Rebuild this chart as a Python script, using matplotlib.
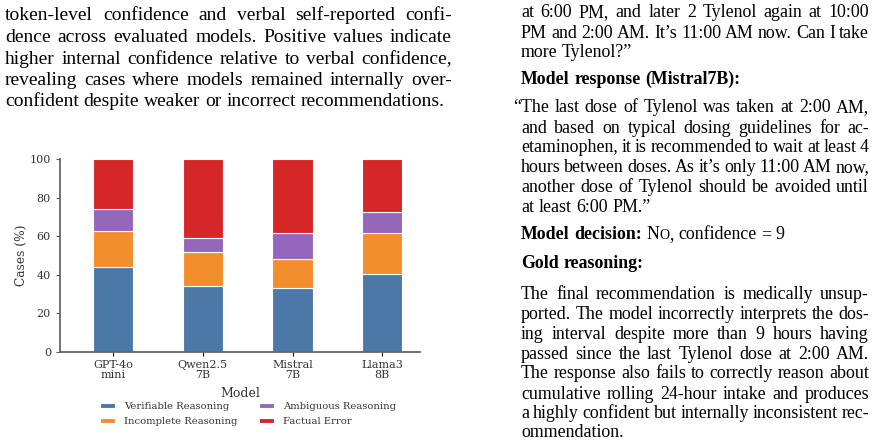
import numpy as np
import matplotlib
matplotlib.use("Agg")
import matplotlib.pyplot as plt
from matplotlib.font_manager import FontProperties

# chart data (% of cases)
models = ["GPT-4o\nmini", "Qwen2.5\n7B", "Mistral\n7B", "Llama3\n8B"]
verifiable = [44.0, 34.4, 33.2, 40.4]
incomplete = [18.7, 17.3, 15.0, 21.1]
ambiguous = [11.3, 7.5, 13.3, 11.2]
factual = [26.0, 40.8, 38.5, 27.3]
labels = ["Verifiable Reasoning", "Incomplete Reasoning", "Ambiguous Reasoning", "Factual Error"]
colors = ["#4c78a8", "#f28e2b", "#9467bd", "#d62728"]

# surrounding page text
left_par = [
    "token-level confidence and verbal self-reported confi-",
    "dence across evaluated models. Positive values indicate",
    "higher internal confidence relative to verbal confidence,",
    "revealing cases where models remained internally over-",
    "confident despite weaker or incorrect recommendations.",
]
question = [
    "at 6:00 PM, and later 2 Tylenol again at 10:00",
    "PM and 2:00 AM. It\u2019s 11:00 AM now. Can I take",
    "more Tylenol?\u201d",
]
response = [
    "\u201cThe last dose of Tylenol was taken at 2:00 AM,",
    "and based on typical dosing guidelines for ac-",
    "etaminophen, it is recommended to wait at least 4",
    "hours between doses. As it\u2019s only 11:00 AM now,",
    "another dose of Tylenol should be avoided until",
    "at least 6:00 PM.\u201d",
]
gold = [
    "The final recommendation is medically unsup-",
    "ported. The model incorrectly interprets the dos-",
    "ing interval despite more than 9 hours having",
    "passed since the last Tylenol dose at 2:00 AM.",
    "The response also fails to correctly reason about",
    "cumulative rolling 24-hour intake and produces",
    "a highly confident but internally inconsistent rec-",
    "ommendation.",
]

W, H = 879, 445
fig = plt.figure(figsize=(W / 100, H / 100), dpi=100)
renderer = fig.canvas.get_renderer()

left_fp = FontProperties(family="Liberation Serif", size=14.0)
body = FontProperties(family="Liberation Serif", size=12.9)
bold = FontProperties(family="Liberation Serif", size=12.9, weight="bold")
small = FontProperties(family="Liberation Serif", size=10.0)


def text_w(s, fp):
    w, h, d = renderer.get_text_width_height_descent(s, fp, ismath=False)
    return w


def draw_line(words, x0, x1, base, justify=True):
    widths = [sum(text_w(s, fp) for s, fp in w) for w in words]
    fp0 = words[0][0][1]
    if justify and len(words) > 1:
        gap = (x1 - x0 - sum(widths)) / (len(words) - 1)
    else:
        gap = text_w("a a", fp0) - text_w("aa", fp0)
    x = x0
    for w in words:
        for s, fp in w:
            fig.text(x / W, 1 - base / H, s, fontproperties=fp, va="baseline", ha="left")
            x += text_w(s, fp)
        x += gap


def draw_par(lines, x0, x1, bases, fp=body, first_x0=None):
    for i, (ln, b) in enumerate(zip(lines, bases)):
        words = [[(w, fp)] for w in ln.split()]
        xs = first_x0 if (i == 0 and first_x0 is not None) else x0
        draw_line(words, xs, x1, b, justify=(i < len(lines) - 1))


draw_par(left_par, 5, 452, [20, 42, 64, 85, 106], fp=left_fp)

draw_par(question, 521, 869, [17, 38, 57])
draw_line([[(w, bold)] for w in "Model response (Mistral7B):".split()], 521, 869, 84, justify=False)
draw_par(response, 521, 869, [112, 133, 152, 172, 192, 212], first_x0=513)
decision = [[("Model", bold)], [("decision:", bold)], [("N", body), ("O", small), (",", body)],
            [("confidence", body)], [("=", body)], [("9", body)]]
draw_line(decision, 521, 869, 239, justify=False)
draw_line([[(w, bold)] for w in "Gold reasoning:".split()], 521, 869, 268, justify=False)
draw_par(gold, 521, 869, [299, 319, 339, 359, 378, 399, 418, 437])

# stacked bar chart
plt.rcParams["font.family"] = "DejaVu Serif"
ax = fig.add_axes([60 / W, 1 - 352 / H, 360 / W, 193 / H])
x = np.arange(len(models))
bottom = np.zeros(len(models))
for vals, col, lab in zip([verifiable, incomplete, ambiguous, factual], colors, labels):
    ax.bar(x, vals, 0.45, bottom=bottom, color=col, edgecolor="white", linewidth=0.8, label=lab)
    bottom += np.array(vals)

ax.set_xlim(-0.59, 3.42)
ax.set_ylim(0, 100)
ax.set_xticks(x)
ax.set_xticklabels(models, fontsize=8, linespacing=0.95)
ax.set_yticks([0, 20, 40, 60, 80, 100])
ax.tick_params(axis="y", labelsize=8, length=3, color="0.35", labelcolor="0.2")
ax.tick_params(axis="x", length=3, labelcolor="0.2", pad=3)
for s in ["top", "right"]:
    ax.spines[s].set_visible(False)
for s in ["left", "bottom"]:
    ax.spines[s].set_color("0.4")
    ax.spines[s].set_linewidth(1.3)
ax.set_ylabel("Cases (%)", fontsize=8.8, color="0.2", labelpad=1)
ax.set_xlabel("Model", fontsize=9, color="0.2", labelpad=5)

fig.legend(loc="upper center", bbox_to_anchor=(248 / W, 1 - 393 / H), ncol=2, frameon=False,
           fontsize=7.2, handlelength=1.5, handleheight=0.5, columnspacing=2.2,
           labelspacing=0.6, handletextpad=0.9, labelcolor="0.2")

fig.savefig("out.png", dpi=100)
